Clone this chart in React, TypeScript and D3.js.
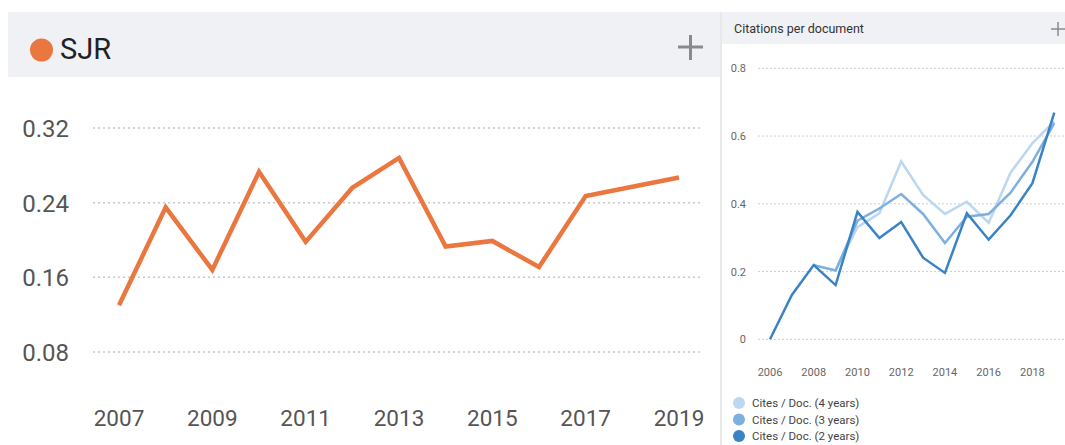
import React from "react";
import * as d3 from "d3";

const sjrYears = [2007, 2008, 2009, 2010, 2011, 2012, 2013, 2014, 2015, 2016, 2017, 2018, 2019];
const sjrValues = [0.13, 0.235, 0.168, 0.273, 0.198, 0.256, 0.288, 0.193, 0.199, 0.171, 0.247, 0.257, 0.267];
const sjrTicks = [0.08, 0.16, 0.24, 0.32];
const sjrXTicks = [2007, 2009, 2011, 2013, 2015, 2017, 2019];

const cpdYears2 = [2006, 2007, 2008, 2009, 2010, 2011, 2012, 2013, 2014, 2015, 2016, 2017, 2018, 2019];
const cites2 = [0, 0.131, 0.219, 0.16, 0.376, 0.299, 0.346, 0.241, 0.196, 0.372, 0.294, 0.366, 0.461, 0.669];
const cpdYears34 = [2008, 2009, 2010, 2011, 2012, 2013, 2014, 2015, 2016, 2017, 2018, 2019];
const cites3 = [0.219, 0.203, 0.35, 0.386, 0.429, 0.37, 0.284, 0.362, 0.37, 0.433, 0.524, 0.638];
const cites4 = [0.219, 0.203, 0.331, 0.372, 0.525, 0.426, 0.37, 0.406, 0.344, 0.492, 0.579, 0.643];
const cpdTicks = [0, 0.2, 0.4, 0.6, 0.8];
const cpdXTicks = [2006, 2008, 2010, 2012, 2014, 2016, 2018];
const legendLabels = ["Cites / Doc. (4 years)", "Cites / Doc. (3 years)", "Cites / Doc. (2 years)"];
const blueColors = ["#bcd7ef", "#7db0de", "#3a83c5"];

export default function App() {
  const font = "Roboto, 'Noto Sans', sans-serif";
  // left chart
  const xL = d3.scaleLinear().domain([2007, 2019]).range([119, 679]);
  const yL = d3.scaleLinear().domain([0.08, 0.32]).range([352, 128]);
  const lineL = d3
    .line<number>()
    .x((_, i) => xL(sjrYears[i]))
    .y((d) => yL(d));

  // right chart
  const xR = d3.scaleLinear().domain([2006, 2019]).range([770, 1054.3]);
  const yR = d3.scaleLinear().domain([0, 0.8]).range([339.3, 68.3]);
  const mk = (years: number[]) =>
    d3
      .line<number>()
      .x((_, i) => xR(years[i]))
      .y((d) => yR(d));

  const series = [
    { years: cpdYears34, vals: cites4, color: blueColors[0] },
    { years: cpdYears34, vals: cites3, color: blueColors[1] },
    { years: cpdYears2, vals: cites2, color: blueColors[2] },
  ];

  return (
    <svg
      width={1065}
      height={445}
      style={{ position: "absolute", left: 0, top: 0, background: "#fff" }}
      fontFamily={font}
    >
      {/* LEFT PANEL */}
      <rect x={8} y={12} width={712} height={65} fill="#eff1f4" />
      <circle cx={41.5} cy={50} r={11.5} fill="#e9773f" />
      <text x={60} y={58.5} fontSize={29} fill="#222">SJR</text>
      <g stroke="#8a8a8a" strokeWidth={3}>
        <line x1={678} x2={703} y1={47} y2={47} />
        <line x1={690.5} x2={690.5} y1={35} y2={60} />
      </g>
      {sjrTicks.map((t) => (
        <g key={t}>
          <line
            x1={93}
            x2={703}
            y1={yL(t)}
            y2={yL(t)}
            stroke="#c8c8c8"
            strokeWidth={1.5}
            strokeDasharray="2,3"
          />
          <text x={69} y={yL(t) + 9} fontSize={24} fill="#555" textAnchor="end">
            {t.toFixed(2)}
          </text>
        </g>
      ))}
      {sjrXTicks.map((y) => (
        <text key={y} x={xL(y)} y={426} fontSize={22.5} fill="#555" textAnchor="middle">
          {y}
        </text>
      ))}
      <path
        d={lineL(sjrValues) || ""}
        fill="none"
        stroke="#e9773f"
        strokeWidth={4.5}
        strokeLinejoin="miter"
      />

      {/* RIGHT PANEL */}
      <rect x={720} y={12} width={345} height={433} fill="#fff" />
      <line x1={721} x2={721} y1={12} y2={445} stroke="#e8e8e8" strokeWidth={2} />
      <rect x={722} y={12} width={343} height={32} fill="#eff1f4" />
      <text x={734} y={33} fontSize={12.5} fill="#333">Citations per document</text>
      <g stroke="#8a8a8a" strokeWidth={1.5}>
        <line x1={1051} x2={1065} y1={29} y2={29} />
        <line x1={1058} x2={1058} y1={22} y2={36} />
      </g>
      {cpdTicks.map((t) => (
        <g key={t}>
          <line
            x1={758}
            x2={1065}
            y1={yR(t)}
            y2={yR(t)}
            stroke="#cfcfcf"
            strokeWidth={1}
            strokeDasharray="2,2"
          />
          <text x={746} y={yR(t) + 4} fontSize={11} fill="#666" textAnchor="end">
            {t === 0 ? "0" : t.toString()}
          </text>
        </g>
      ))}
      {cpdXTicks.map((y) => (
        <text key={y} x={xR(y)} y={376} fontSize={11} fill="#666" textAnchor="middle">
          {y}
        </text>
      ))}
      {series.map((s, i) => (
        <path
          key={i}
          d={mk(s.years)(s.vals) || ""}
          fill="none"
          stroke={s.color}
          strokeWidth={2.5}
        />
      ))}
      {legendLabels.map((l, i) => (
        <g key={l}>
          <circle cx={739} cy={403 + i * 16.5} r={6} fill={blueColors[i]} />
          <text x={752} y={407 + i * 16.5} fontSize={11.5} fill="#444">
            {l}
          </text>
        </g>
      ))}
    </svg>
  );
}
